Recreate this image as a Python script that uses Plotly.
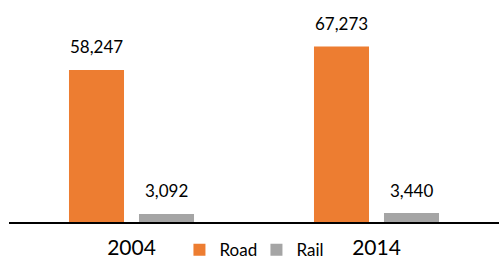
import plotly.graph_objects as go

years = ["2004", "2014"]
road = [58247, 67273]
rail = [3092, 3440]
series_names = ["Road", "Rail"]
colors = ["#ED7D31", "#A5A5A5"]

fig = go.Figure()
for name, vals, col in zip(series_names, [road, rail], colors):
    fig.add_trace(go.Bar(x=years, y=vals, name=name, marker=dict(color=col, line=dict(width=0))))

# value labels
for i, (name, vals) in enumerate(zip(series_names, [road, rail])):
    shift = -35 if i == 0 else 35
    for j, v in enumerate(vals):
        fig.add_annotation(x=j, y=v, text=f"{v:,}", showarrow=False, xshift=shift, yshift=23,
                           yanchor="middle", font=dict(size=17, color="#000000", family="Lato"))

fig.update_layout(
    width=499, height=262,
    margin=dict(l=9, r=0, t=20, b=40, autoexpand=False),
    paper_bgcolor="white", plot_bgcolor="white",
    barmode="group", bargap=0.4286, bargroupgap=0.214,
    font=dict(family="Lato", color="#000000"),
    showlegend=True,
    legend=dict(orientation="h", x=0.505, y=-0.139, xanchor="center", yanchor="middle",
                font=dict(size=17), itemwidth=30, entrywidth=32, entrywidthmode="pixels",
                bgcolor="rgba(0,0,0,0)"),
    xaxis=dict(type="category", range=[-0.5, 1.5], showline=True, linecolor="black", linewidth=2,
               ticks="", tickfont=dict(size=21), showgrid=False, zeroline=False,
               ticklabelstandoff=6, automargin=False),
    yaxis=dict(visible=False, range=[0, 77400], showgrid=False, zeroline=False, automargin=False),
)

fig.write_html("out.html", config={"displayModeBar": False},
               post_script="document.body.style.margin='0';")
